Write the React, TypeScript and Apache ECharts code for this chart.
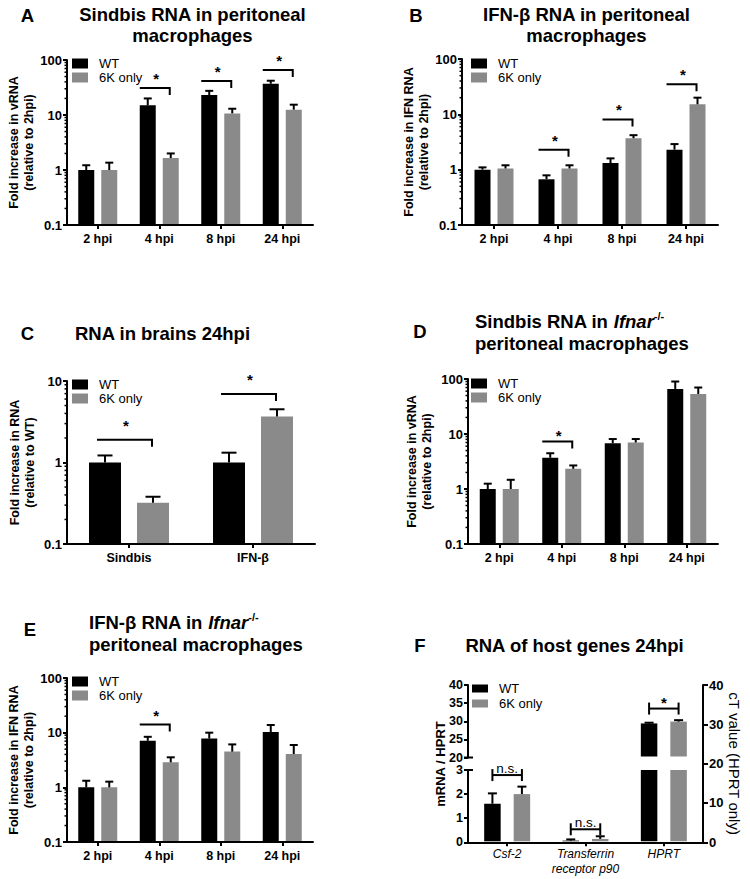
import { useEffect, useRef } from 'react';
import * as echarts from 'echarts';

const FONT = '"Liberation Sans", Arial, Helvetica, sans-serif';
const BLACK = '#000000';
const GRAY = '#8a8a8a';

// ---------- categories ----------
const HPI_CATS = ['2 hpi', '4 hpi', '8 hpi', '24 hpi'];
const BRAIN_CATS = ['Sindbis', 'IFN-β'];
const HOST_CATS = ['Csf-2', 'Transferrin\nreceptor p90', 'HPRT'];

// log axis minor tick values (2..9 per decade)
const MINOR_TICKS = [0.2, 0.3, 0.4, 0.5, 0.6, 0.7, 0.8, 0.9, 2, 3, 4, 5, 6, 7, 8, 9, 20, 30, 40, 50, 60, 70, 80, 90];

// ---------- A: Sindbis RNA in peritoneal macrophages ----------
const A_WT = [1.0, 15, 23, 37];
const A_WT_ERR = [1.22, 20, 27.5, 42];
const A_6K = [1.0, 1.65, 10.7, 12.5];
const A_6K_ERR = [1.36, 2.0, 13, 15.4];
const A_SIG_CAT = [1, 2, 3];
const A_SIG_LEVEL = [31, 41.5, 66];

// ---------- B: IFN-β RNA in peritoneal macrophages ----------
const B_WT = [1.0, 0.67, 1.32, 2.3];
const B_WT_ERR = [1.1, 0.79, 1.6, 2.9];
const B_6K = [1.05, 1.05, 3.7, 15.2];
const B_6K_ERR = [1.2, 1.2, 4.2, 20];
const B_SIG_CAT = [1, 2, 3];
const B_SIG_LEVEL = [2.28, 8.1, 35];

// ---------- C: RNA in brains 24hpi ----------
const C_WT = [1.0, 1.0];
const C_WT_ERR = [1.22, 1.32];
const C_6K = [0.32, 3.66];
const C_6K_ERR = [0.38, 4.5];
const C_SIG_CAT = [0, 1];
const C_SIG_LEVEL = [1.9, 6.93];

// ---------- D: Sindbis RNA in Ifnar-/- ----------
const D_WT = [1.0, 3.7, 6.8, 66];
const D_WT_ERR = [1.25, 4.47, 8.1, 90];
const D_6K = [1.0, 2.33, 7.0, 53.5];
const D_6K_ERR = [1.47, 2.68, 8.1, 70];
const D_SIG_CAT = [1];
const D_SIG_LEVEL = [7.3];

// ---------- E: IFN-β RNA in Ifnar-/- ----------
const E_WT = [1.0, 7.1, 7.8, 10.3];
const E_WT_ERR = [1.32, 8.4, 10, 13.8];
const E_6K = [1.0, 2.87, 4.5, 4.07];
const E_6K_ERR = [1.27, 3.54, 6.1, 5.95];
const E_SIG_CAT = [1];
const E_SIG_LEVEL = [14.1];

// ---------- F: RNA of host genes 24hpi ----------
const F_WT = [1.6, 0.07, 29.4];
const F_WT_ERR = [2.03, 0.12, 29.6];
const F_6K = [2.0, 0.14, 29.9];
const F_6K_ERR = [2.31, 0.25, 30.3];
const F_SIG_CAT = [0, 1, 2];
const F_SIG_LEVEL = [2.79, 0.54, 33.5];
const F_SIG_LABEL = ['n.s.', 'n.s.', '*'];
const F_LOW_RANGE = [0, 3];
const F_HIGH_RANGE = [20, 40];
const F_CT_RANGE = [0, 40];

const LOG_PANELS = [
  { cats: HPI_CATS, wt: A_WT, wtErr: A_WT_ERR, k6: A_6K, k6Err: A_6K_ERR, sigCat: A_SIG_CAT, sigLevel: A_SIG_LEVEL, yName: 'Fold increase in vRNA\n(relative to 2hpi)', yMin: 0.1, yMax: 100 },
  { cats: HPI_CATS, wt: B_WT, wtErr: B_WT_ERR, k6: B_6K, k6Err: B_6K_ERR, sigCat: B_SIG_CAT, sigLevel: B_SIG_LEVEL, yName: 'Fold increase in IFN RNA\n(relative to 2hpi)', yMin: 0.1, yMax: 100 },
  { cats: BRAIN_CATS, wt: C_WT, wtErr: C_WT_ERR, k6: C_6K, k6Err: C_6K_ERR, sigCat: C_SIG_CAT, sigLevel: C_SIG_LEVEL, yName: 'Fold increase in RNA\n(relative to WT)', yMin: 0.1, yMax: 10 },
  { cats: HPI_CATS, wt: D_WT, wtErr: D_WT_ERR, k6: D_6K, k6Err: D_6K_ERR, sigCat: D_SIG_CAT, sigLevel: D_SIG_LEVEL, yName: 'Fold increase in vRNA\n(relative to 2hpi)', yMin: 0.1, yMax: 100 },
  { cats: HPI_CATS, wt: E_WT, wtErr: E_WT_ERR, k6: E_6K, k6Err: E_6K_ERR, sigCat: E_SIG_CAT, sigLevel: E_SIG_LEVEL, yName: 'Fold increase in IFN RNA\n(relative to 2hpi)', yMin: 0.1, yMax: 100 },
];

// layout (positions / sizes only)
const LOG_LAYOUT = [
  { left: 67, top: 60, width: 246, height: 165, barW: 16, gap: 7, cap: 8, starOff: 12, nameGap: 31, lgLeft: 72, lgTop: 57 },
  { left: 462, top: 59, width: 256, height: 166, barW: 16, gap: 7, cap: 8, starOff: 12, nameGap: 25, lgLeft: 471, lgTop: 57 },
  { left: 67, top: 381, width: 248, height: 163, barW: 32, gap: 16, cap: 15, starOff: 17, nameGap: 30, lgLeft: 72, lgTop: 378 },
  { left: 468, top: 379, width: 250, height: 165, barW: 16, gap: 7, cap: 8, starOff: 9, nameGap: 34, lgLeft: 471, lgTop: 377 },
  { left: 67, top: 678, width: 246, height: 164, barW: 16, gap: 7, cap: 8, starOff: 12, nameGap: 31, lgLeft: 72, lgTop: 675 },
];
const F_LAYOUT = { left: 468, width: 235, upTop: 685, upH: 72.5, lowTop: 770, lowH: 72.3, barW: 16.5, gap: 13, cap: 9, lgLeft: 472, lgTop: 682 };

const TITLE_FONT = `bold 18.5px ${FONT}`;

function makeBarRender(side: number, barW: number, gap: number, cap: number, base: number, clipMax: number) {
  return (params: any, api: any) => {
    const cat = api.value(0);
    const v = api.value(1);
    const e = api.value(2);
    const top = api.coord([cat, Math.min(v, clipMax)]);
    const xc = top[0] + side * (gap / 2 + barW / 2);
    const yb = api.coord([cat, base])[1] - 1;
    const children: any[] = [
      { type: 'rect', shape: { x: xc - barW / 2, y: top[1], width: barW, height: Math.max(0, yb - top[1]) }, style: { fill: api.visual('color') } },
    ];
    if (e > v && e <= clipMax) {
      const ye = api.coord([cat, e])[1];
      children.push({ type: 'line', shape: { x1: xc, y1: top[1], x2: xc, y2: ye }, style: { stroke: BLACK, lineWidth: 2 } });
      children.push({ type: 'line', shape: { x1: xc - cap / 2, y1: ye, x2: xc + cap / 2, y2: ye }, style: { stroke: BLACK, lineWidth: 2 } });
    }
    return { type: 'group', children };
  };
}

function makeStepSig(barW: number, gap: number, starOff: number) {
  return (params: any, api: any) => {
    const p = api.coord([api.value(0), api.value(1)]);
    const wtC = p[0] - gap / 2 - barW / 2;
    const k6C = p[0] + gap / 2 + barW / 2;
    const xL = wtC - 8;
    const xR = k6C - 1;
    const y = p[1];
    return {
      type: 'group',
      children: [
        { type: 'polyline', shape: { points: [[xL, y], [xR, y], [xR, y + 7]] }, style: { stroke: BLACK, lineWidth: 2, fill: null } },
        { type: 'text', x: (xL + xR) / 2 + 1.5, y: y - starOff + 2.5, style: { text: '*', fill: BLACK, font: `bold 15px ${FONT}`, align: 'center', verticalAlign: 'middle', textAlign: 'center', textVerticalAlign: 'middle' } },
      ],
    };
  };
}

function makeHSig(barW: number, gap: number, labels: string[], idxs: number[]) {
  return (params: any, api: any) => {
    const p = api.coord([api.value(0), api.value(1)]);
    const wtC = p[0] - gap / 2 - barW / 2;
    const k6C = p[0] + gap / 2 + barW / 2;
    const y = p[1];
    const label = labels[idxs[params.dataIndex]];
    const isStar = label === '*';
    return {
      type: 'group',
      children: [
        { type: 'line', shape: { x1: wtC, y1: y, x2: k6C, y2: y }, style: { stroke: BLACK, lineWidth: 2 } },
        { type: 'line', shape: { x1: wtC, y1: y - 6, x2: wtC, y2: y + 6 }, style: { stroke: BLACK, lineWidth: 2 } },
        { type: 'line', shape: { x1: k6C, y1: y - 6, x2: k6C, y2: y + 6 }, style: { stroke: BLACK, lineWidth: 2 } },
        { type: 'text', x: (wtC + k6C) / 2, y: y - 6.5, style: { text: label, fill: BLACK, font: isStar ? `bold 15px ${FONT}` : `13.5px ${FONT}`, align: 'center', verticalAlign: 'middle', textAlign: 'center', textVerticalAlign: 'middle' } },
      ],
    };
  };
}

function minorTickRender(params: any, api: any) {
  const y = api.coord([0, api.value(1)])[1];
  const x = params.coordSys.x;
  return { type: 'line', shape: { x1: x - 2.5, y1: y, x2: x, y2: y }, style: { stroke: BLACK, lineWidth: 1.5 } };
}

function breakRender(params: any, api: any) {
  const y = api.coord([0, api.value(1)])[1];
  const x = params.coordSys.x;
  return { type: 'line', shape: { x1: x - 4, y1: y, x2: x + 5, y2: y }, style: { stroke: BLACK, lineWidth: 2 } };
}

const axisLabelStyle = { fontFamily: FONT, fontWeight: 'bold', fontSize: 13, color: BLACK };

function catAxis(gridIndex: number, cats: string[], extraLabel: any = {}) {
  return {
    type: 'category', gridIndex, data: cats,
    axisLine: { show: true, onZero: false, lineStyle: { color: BLACK, width: 2 } },
    axisTick: { show: true, alignWithLabel: true, length: 4, lineStyle: { color: BLACK, width: 2 } },
    axisLabel: { interval: 0, fontFamily: FONT, fontWeight: 'bold', fontSize: 12.5, color: BLACK, margin: 7, ...extraLabel },
    splitLine: { show: false },
  };
}

function makeLegend(left: number, top: number, itemH: number, gapY: number) {
  return {
    left, top, orient: 'vertical', padding: 0, itemWidth: 16, itemHeight: itemH, itemGap: gapY,
    icon: 'rect', selectedMode: false, data: ['WT', '6K only'],
    textStyle: { fontFamily: FONT, fontSize: 13, color: BLACK, lineHeight: itemH, padding: [0, 0, 0, 6] },
  };
}

function buildOption() {
  const grid: any[] = [];
  const xAxis: any[] = [];
  const yAxis: any[] = [];
  const series: any[] = [];
  const legend: any[] = [];

  LOG_PANELS.forEach((p, i) => {
    const L = LOG_LAYOUT[i];
    grid.push({ left: L.left, top: L.top, width: L.width, height: L.height });
    xAxis.push(catAxis(i, p.cats));
    yAxis.push({
      type: 'log', logBase: 10, gridIndex: i, min: p.yMin, max: p.yMax,
      axisLine: { show: true, lineStyle: { color: BLACK, width: 2 } },
      axisTick: { show: true, length: 4, lineStyle: { color: BLACK, width: 2 } },
      splitLine: { show: false },
      axisLabel: { ...axisLabelStyle, margin: 5, formatter: (v: number) => (v >= 1 ? String(Math.round(v)) : String(Math.round(v * 10) / 10)) },
      name: p.yName, nameLocation: 'middle', nameRotate: 90, nameGap: L.nameGap,
      nameTextStyle: { fontFamily: FONT, fontWeight: 'bold', fontSize: 12.5, lineHeight: 15, color: BLACK },
    });
    series.push({
      type: 'custom', name: 'WT', xAxisIndex: i, yAxisIndex: i, itemStyle: { color: BLACK },
      data: p.cats.map((_, k) => [k, p.wt[k], p.wtErr[k]]),
      renderItem: makeBarRender(-1, L.barW, L.gap, L.cap, p.yMin, p.yMax),
    });
    series.push({
      type: 'custom', name: '6K only', xAxisIndex: i, yAxisIndex: i, itemStyle: { color: GRAY },
      data: p.cats.map((_, k) => [k, p.k6[k], p.k6Err[k]]),
      renderItem: makeBarRender(1, L.barW, L.gap, L.cap, p.yMin, p.yMax),
    });
    series.push({
      type: 'custom', name: 'minor' + i, xAxisIndex: i, yAxisIndex: i, silent: true,
      data: MINOR_TICKS.filter((v) => v > p.yMin && v < p.yMax).map((v) => [0, v]),
      renderItem: minorTickRender,
    });
    series.push({
      type: 'custom', name: 'sig' + i, xAxisIndex: i, yAxisIndex: i, silent: true,
      data: p.sigCat.map((c, k) => [c, p.sigLevel[k]]),
      renderItem: makeStepSig(L.barW, L.gap, L.starOff),
    });
    legend.push(makeLegend(L.lgLeft, L.lgTop, 10, 1));
  });

  // ----- Panel F (broken axis) -----
  const F = F_LAYOUT;
  // grid 5: upper, grid 6: lower, grid 7: full (right axis)
  grid.push({ left: F.left, top: F.upTop, width: F.width, height: F.upH });
  grid.push({ left: F.left, top: F.lowTop, width: F.width, height: F.lowH });
  grid.push({ left: F.left, top: F.upTop, width: F.width, height: F.lowTop + F.lowH - F.upTop });

  xAxis.push({ ...catAxis(5, HOST_CATS), show: false });
  xAxis.push(catAxis(6, HOST_CATS, { fontWeight: 'normal', fontStyle: 'italic', fontSize: 12, lineHeight: 15, margin: 4 }));
  xAxis.push({ ...catAxis(7, HOST_CATS), show: false });

  const linAxisBase = {
    type: 'value',
    axisLine: { show: true, lineStyle: { color: BLACK, width: 2 } },
    axisTick: { show: true, length: 4, lineStyle: { color: BLACK, width: 2 } },
    splitLine: { show: false },
    axisLabel: { ...axisLabelStyle, fontSize: 12.5, margin: 5, lineHeight: 12 },
  };
  yAxis.push({
    ...linAxisBase, gridIndex: 5, min: F_HIGH_RANGE[0], max: F_HIGH_RANGE[1], interval: 5,
    axisLabel: { ...linAxisBase.axisLabel, verticalAlign: 'middle', padding: [0, 0, 4, 0] },
  });
  yAxis.push({ ...linAxisBase, gridIndex: 6, min: F_LOW_RANGE[0], max: F_LOW_RANGE[1], interval: 1 });
  yAxis.push({
    ...linAxisBase, gridIndex: 7, position: 'right', min: F_CT_RANGE[0], max: F_CT_RANGE[1], interval: 10,
    axisTick: { show: true, length: 5, lineStyle: { color: BLACK, width: 2 } },
    axisLabel: { ...axisLabelStyle, margin: 6 },
    name: 'cT value (HPRT only)', nameLocation: 'middle', nameRotate: -90, nameGap: 22,
    nameTextStyle: { fontFamily: FONT, fontWeight: 'normal', fontSize: 15, color: BLACK },
  });

  const fLow = HOST_CATS.map((_, k) => k);
  series.push({
    type: 'custom', name: 'WT', xAxisIndex: 6, yAxisIndex: 6, itemStyle: { color: BLACK },
    data: fLow.map((k) => [k, F_WT[k], F_WT_ERR[k]]),
    renderItem: makeBarRender(-1, F.barW, F.gap, F.cap, F_LOW_RANGE[0], F_LOW_RANGE[1]),
  });
  series.push({
    type: 'custom', name: '6K only', xAxisIndex: 6, yAxisIndex: 6, itemStyle: { color: GRAY },
    data: fLow.map((k) => [k, F_6K[k], F_6K_ERR[k]]),
    renderItem: makeBarRender(1, F.barW, F.gap, F.cap, F_LOW_RANGE[0], F_LOW_RANGE[1]),
  });
  series.push({
    type: 'custom', name: 'WT', xAxisIndex: 5, yAxisIndex: 5, itemStyle: { color: BLACK },
    data: fLow.filter((k) => F_WT[k] > F_HIGH_RANGE[0]).map((k) => [k, F_WT[k], F_WT_ERR[k]]),
    renderItem: makeBarRender(-1, F.barW, F.gap, F.cap, F_HIGH_RANGE[0], F_HIGH_RANGE[1]),
  });
  series.push({
    type: 'custom', name: '6K only', xAxisIndex: 5, yAxisIndex: 5, itemStyle: { color: GRAY },
    data: fLow.filter((k) => F_6K[k] > F_HIGH_RANGE[0]).map((k) => [k, F_6K[k], F_6K_ERR[k]]),
    renderItem: makeBarRender(1, F.barW, F.gap, F.cap, F_HIGH_RANGE[0], F_HIGH_RANGE[1]),
  });
  const lowIdx = F_SIG_CAT.map((_, k) => k).filter((k) => F_SIG_LEVEL[k] <= F_LOW_RANGE[1]);
  const highIdx = F_SIG_CAT.map((_, k) => k).filter((k) => F_SIG_LEVEL[k] >= F_HIGH_RANGE[0]);
  series.push({
    type: 'custom', name: 'sigFlow', xAxisIndex: 6, yAxisIndex: 6, silent: true,
    data: lowIdx.map((k) => [F_SIG_CAT[k], F_SIG_LEVEL[k]]),
    renderItem: makeHSig(F.barW, F.gap, F_SIG_LABEL, lowIdx),
  });
  series.push({
    type: 'custom', name: 'sigFhigh', xAxisIndex: 5, yAxisIndex: 5, silent: true,
    data: highIdx.map((k) => [F_SIG_CAT[k], F_SIG_LEVEL[k]]),
    renderItem: makeHSig(F.barW, F.gap, F_SIG_LABEL, highIdx),
  });
  series.push({
    type: 'custom', name: 'breakHigh', xAxisIndex: 5, yAxisIndex: 5, silent: true,
    data: [[0, F_HIGH_RANGE[0]]], renderItem: breakRender,
  });
  series.push({
    type: 'custom', name: 'breakLow', xAxisIndex: 6, yAxisIndex: 6, silent: true,
    data: [[0, F_LOW_RANGE[1]]], renderItem: breakRender,
  });
  legend.push(makeLegend(F.lgLeft, F.lgTop, 8, 2));

  const t = (x: number, y: number, text: string, align = 'center', extra: any = {}, rotation = 0) => ({
    type: 'text', x, y, rotation, silent: true,
    style: { text, font: TITLE_FONT, fill: BLACK, align, verticalAlign: 'middle', textAlign: align, textVerticalAlign: 'middle', ...extra },
  });
  const rich = {
    r: { fontFamily: FONT, fontWeight: 'bold', fontSize: 18.5, lineHeight: 22 },
    i: { fontFamily: FONT, fontWeight: 'bold', fontStyle: 'italic', fontSize: 18.5, lineHeight: 22 },
    s: { fontFamily: FONT, fontWeight: 'bold', fontSize: 11, lineHeight: 22, verticalAlign: 'top' },
  };

  const graphic = [
    t(27.5, 15, 'A'),
    t(192.5, 25, 'Sindbis RNA in peritoneal\nmacrophages', 'center', { lineHeight: 21 }),
    t(416, 15, 'B'),
    t(586.5, 25, 'IFN-β RNA in peritoneal\nmacrophages', 'center', { lineHeight: 21 }),
    t(27.5, 333.5, 'C'),
    t(162.5, 333.5, 'RNA in brains 24hpi'),
    t(420, 331, 'D'),
    t(475, 332.5, '{r|Sindbis RNA in }{i|Ifnar}{s|-/-}\n{r|peritoneal macrophages}', 'left', { rich }),
    t(30, 629.5, 'E'),
    t(89, 633, '{r|IFN-β RNA in }{i|Ifnar}{s|-/-}\n{r|peritoneal macrophages}', 'left', { rich }),
    t(420, 645, 'F'),
    t(574.5, 645, 'RNA of host genes 24hpi'),
    t(440.5, 764, 'mRNA / HPRT', 'center', { font: `bold 13px ${FONT}` }, Math.PI / 2),
  ];

  return {
    animation: false,
    backgroundColor: '#ffffff',
    textStyle: { fontFamily: FONT },
    grid, xAxis, yAxis, series, legend, graphic,
  };
}

export default function App() {
  const ref = useRef<HTMLDivElement>(null);
  useEffect(() => {
    if (!ref.current) return;
    const chart = echarts.init(ref.current, null, { renderer: 'svg' });
    chart.setOption(buildOption() as any);
    return () => chart.dispose();
  }, []);
  return (
    <div
      ref={ref}
      style={{ position: 'absolute', left: 0, top: 0, width: 750, height: 879, background: '#ffffff' }}
    />
  );
}
